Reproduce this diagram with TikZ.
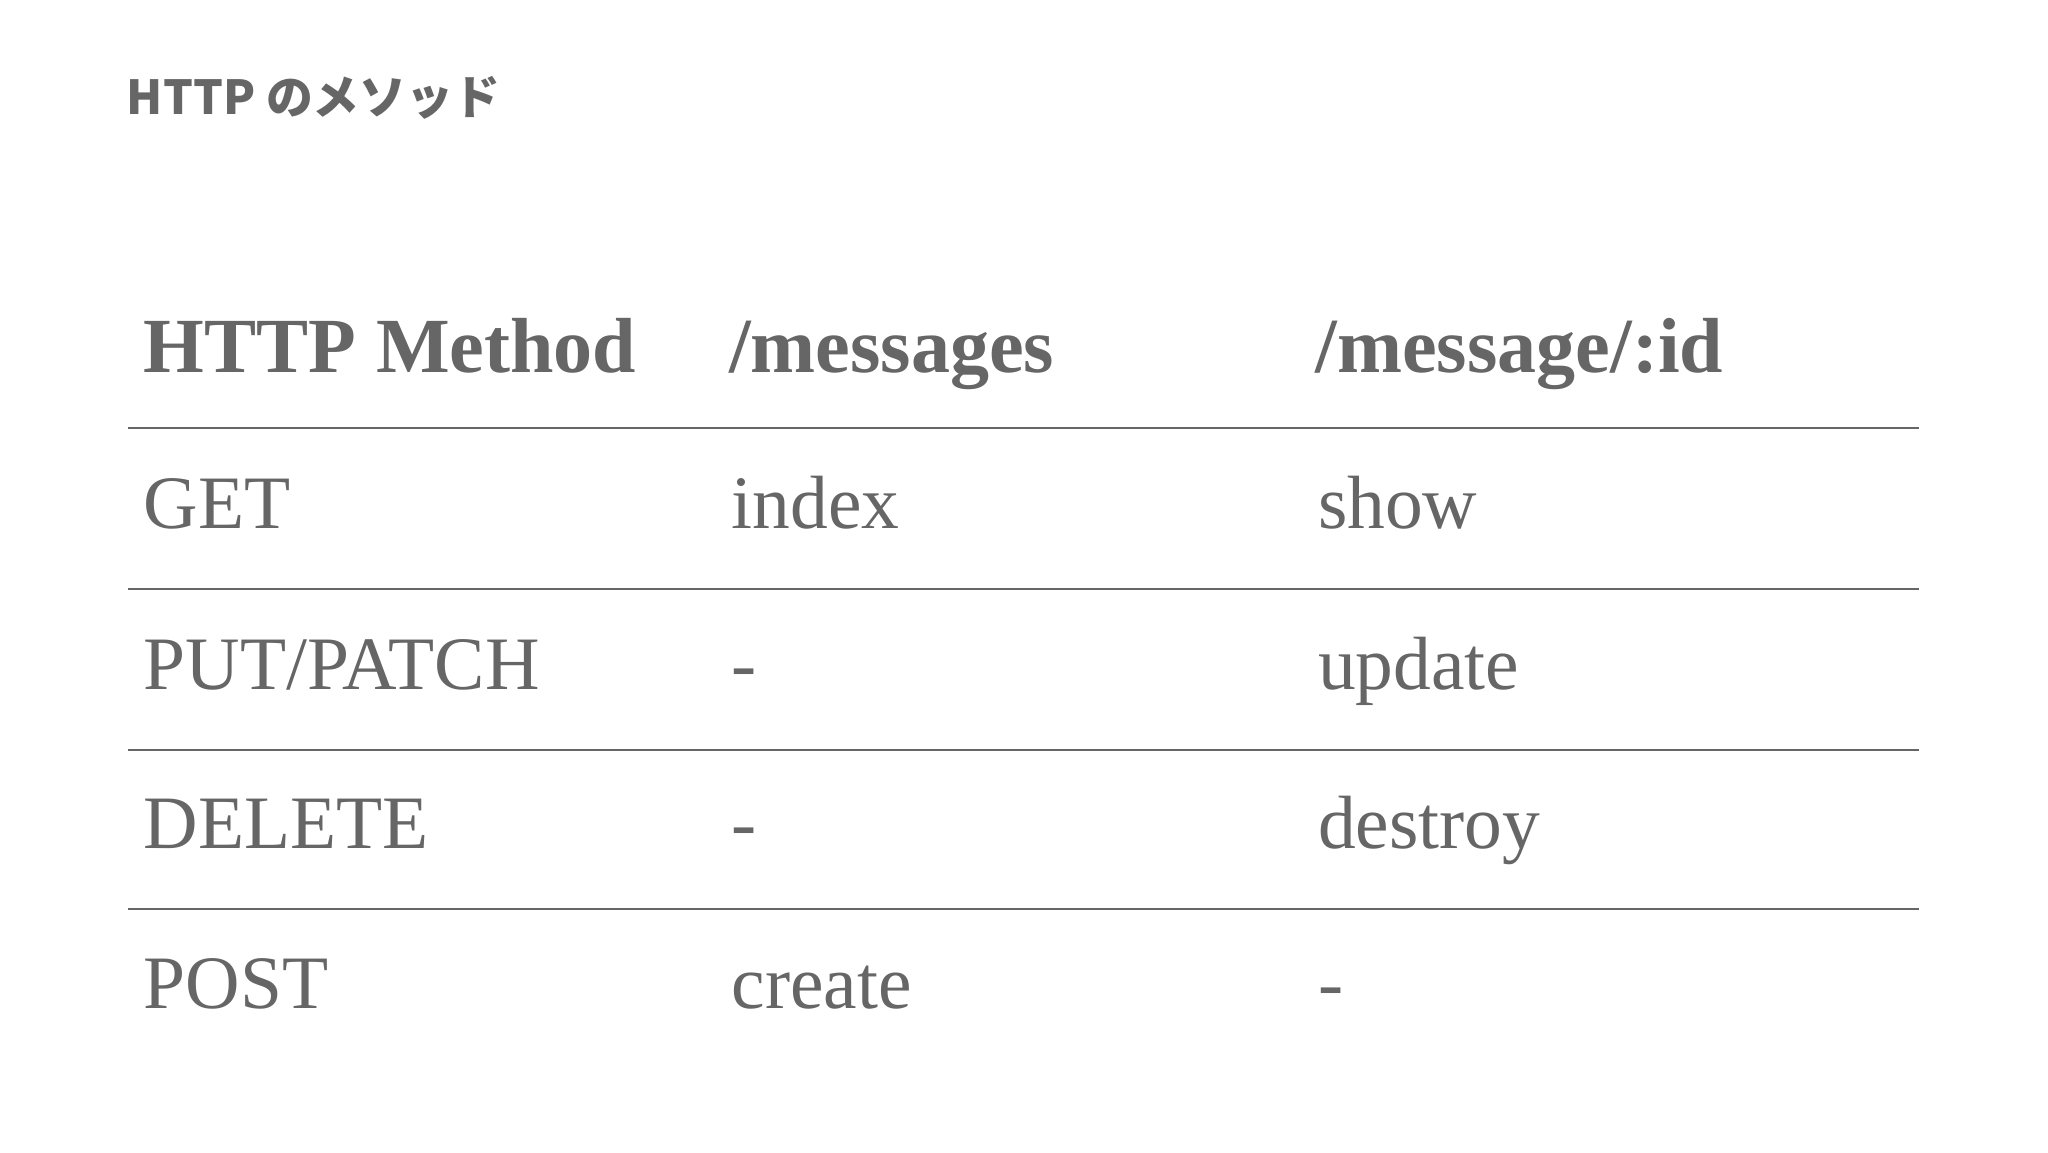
\documentclass[tikz,border=0pt]{standalone}
\usepackage{fontspec}
\setmainfont{Liberation Serif}
\newfontfamily\cjk{Noto Sans CJK JP}
\definecolor{txt}{HTML}{666666}
\begin{document}
\begin{tikzpicture}[x=1bp,y=-1bp,
  cell/.style={anchor=base west,inner sep=0pt,text=txt,font=\fontsize{58}{60}\selectfont},
  head/.style={cell,font=\fontsize{60}{62}\selectfont\bfseries},
  rule/.style={draw=txt,line width=1.5bp}]
\useasboundingbox (0,0) rectangle (1568,882);
\node[anchor=base west,inner sep=0pt,text=txt,font=\cjk\bfseries\fontsize{36}{38}\selectfont] (title) at (97,88) {HTTP のメソッド};
\node[head] (h1) at (110,285) {HTTP Method};
\node[head] (h2) at (558,285) {/messages};
\node[head] (h3) at (1007,285) {/message/:id};
\foreach \y/\n in {328/a,451/b,574/c,696/d}{
  \coordinate (l\n) at (98,\y); \coordinate (r\n) at (1469,\y);
  \draw[rule] (l\n) -- (r\n);}
\node[cell] (g1) at (110,405) {GET};
\node[cell] (g2) at (560,405) {index};
\node[cell] (g3) at (1009,405) {show};
\node[cell] (p1) at (110,528) {PUT/PATCH};
\node[cell] (p2) at (560,528) {-};
\node[cell] (p3) at (1009,528) {update};
\node[cell] (d1) at (110,650) {DELETE};
\node[cell] (d2) at (560,650) {-};
\node[cell] (d3) at (1009,650) {destroy};
\node[cell] (o1) at (110,772) {POST};
\node[cell] (o2) at (560,772) {create};
\node[cell] (o3) at (1009,772) {-};
\end{tikzpicture}
\end{document}
